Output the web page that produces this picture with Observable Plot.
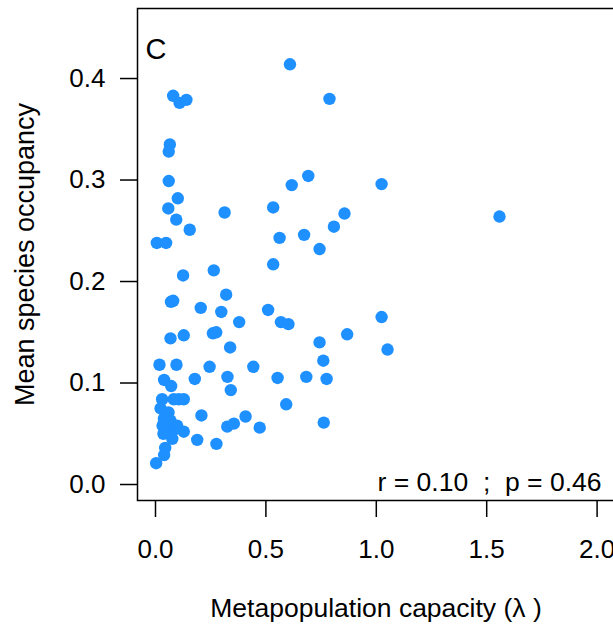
<!DOCTYPE html>
<html>
<head>
<meta charset="utf-8">
<script src="https://cdn.jsdelivr.net/npm/d3@7"></script>
<script src="https://cdn.jsdelivr.net/npm/@observablehq/plot@0.6"></script>
<style>
  html, body { margin: 0; padding: 0; background: #fff; overflow: hidden; }
</style>
</head>
<body>
<div id="chart"></div>
<script>
// Metapopulation capacity (lambda) per site
const lambda = [
  0.609,0.080,0.109,0.140,0.788,0.065,0.060,0.060,0.101,0.058,
  0.094,0.155,0.313,0.533,0.617,0.692,0.856,0.808,0.673,0.562,
  0.743,0.006,0.048,0.533,0.264,0.125,1.024,1.558,1.024,1.051,
  0.320,0.070,0.080,0.205,0.298,0.510,0.379,0.568,0.602,0.260,
  0.275,0.128,0.068,0.338,0.743,0.868,0.018,0.095,0.245,0.443,
  0.760,0.039,0.071,0.178,0.326,0.341,0.553,0.683,0.775,0.592,
  0.030,0.106,0.128,0.083,0.023,0.208,0.408,0.325,0.355,0.472,
  0.762,0.128,0.189,0.276,0.044,0.039,0.003,0.038,0.045,0.076,
  0.098,0.076,0.032,0.059,0.036,0.068
];
// Mean species occupancy
const occupancy = [
  0.414,0.383,0.376,0.379,0.380,0.335,0.328,0.299,0.282,0.272,
  0.261,0.251,0.268,0.273,0.295,0.304,0.267,0.254,0.246,0.243,
  0.232,0.238,0.238,0.217,0.211,0.206,0.296,0.264,0.165,0.133,
  0.187,0.180,0.181,0.174,0.170,0.172,0.160,0.160,0.158,0.149,
  0.150,0.147,0.144,0.135,0.140,0.148,0.118,0.118,0.116,0.116,
  0.122,0.103,0.097,0.104,0.106,0.093,0.105,0.106,0.104,0.079,
  0.084,0.084,0.084,0.084,0.075,0.068,0.067,0.057,0.060,0.056,
  0.061,0.052,0.044,0.040,0.036,0.029,0.021,0.065,0.055,0.052,
  0.058,0.045,0.058,0.071,0.050,0.063
];
const xTicks = [0, 0.5, 1.0, 1.5, 2.0];
const yTicks = [0, 0.1, 0.2, 0.3, 0.4];
const panelLabel = ["C"];
const statLabel = ["r = 0.10\u00a0\u00a0;\u00a0\u00a0p = 0.46"];
const xTitle = ["Metapopulation capacity (\u03bb )"];
const yTitle = ["Mean species occupancy"];

const points = lambda.map((x, i) => ({x, y: occupancy[i]}));
const FONT = "'Liberation Sans', Arial, Helvetica, sans-serif";

const chart = Plot.plot({
  width: 613,
  height: 632,
  marginLeft: 137,
  marginRight: -1,
  marginTop: 8,
  marginBottom: 132,
  style: {fontFamily: FONT, fontSize: "26px", color: "black", background: "white"},
  x: {domain: [-0.0815, 2.0788], axis: null},
  y: {domain: [-0.01576, 0.469], axis: null},
  marks: [
    Plot.axisX({ticks: xTicks, tickSize: 17, tickPadding: 22, tickFormat: d3.format(".1f"),
      strokeWidth: 1.5, label: null, fontSize: 26}),
    Plot.axisY({ticks: yTicks, tickSize: 17, tickPadding: 15, tickFormat: d3.format(".1f"),
      strokeWidth: 1.5, label: null, fontSize: 26}),
    Plot.dot(points, {x: "x", y: "y", r: 6.2, fill: "#1E90FF", stroke: "none"}),
    Plot.frame({stroke: "black", strokeWidth: 1.5}),
    Plot.text(panelLabel, {frameAnchor: "top-left", text: d => d, dx: 8, dy: 50,
      textAnchor: "start", lineAnchor: "bottom", fontSize: 29}),
    Plot.text(statLabel, {frameAnchor: "bottom-right", text: d => d, dx: -13, dy: -10,
      textAnchor: "end", lineAnchor: "bottom", fontSize: 26.5}),
    Plot.text(xTitle, {frameAnchor: "bottom", text: d => d, dy: 108,
      textAnchor: "middle", lineAnchor: "middle", fontSize: 26.5}),
    Plot.text(yTitle, {frameAnchor: "left", text: d => d, dx: -112, rotate: -90,
      textAnchor: "middle", lineAnchor: "middle", fontSize: 27})
  ]
});
document.getElementById("chart").appendChild(chart);
</script>
</body>
</html>
